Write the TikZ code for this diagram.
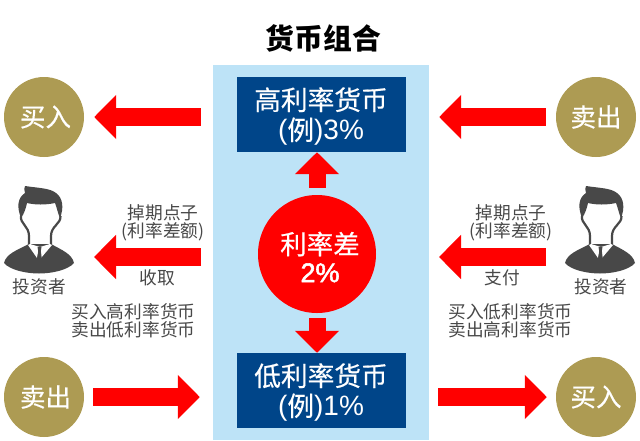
\documentclass[tikz,border=0pt]{standalone}
\usepackage{fontspec}
\setmainfont{Noto Sans CJK SC}
\newfontfamily\medfont[FakeBold=0.5]{Noto Sans CJK SC}
\newfontfamily\numfont{Liberation Sans}
\newfontfamily\numbold[FakeBold=2]{Liberation Sans}
\usetikzlibrary{arrows.meta}
\definecolor{panelblue}{HTML}{BDE3F7}
\definecolor{boxblue}{HTML}{004589}
\definecolor{gold}{HTML}{AD9B53}
\definecolor{suit}{HTML}{484848}
\tikzset{
investor/.pic={
  \fill[suit] (21,218) .. controls (17,208) and (17,198) .. (25,193) .. controls (24,190) and (24,188) .. (25,186)
    .. controls (38,188) and (50,188) .. (56,193) .. controls (63,198) and (64,208) .. (60,218)
    .. controls (58,214) and (57,208) .. (55,203) .. controls (46,205) and (35,205) .. (27,203)
    .. controls (26,208) and (24,214) .. (21,218) -- cycle;
  \draw[suit,line width=2.2pt] (21,216) .. controls (20,224) and (29,226) .. (29,236) -- (29,246);
  \draw[suit,line width=2.2pt] (60.5,216) .. controls (61,224) and (51,226) .. (51,236) -- (51,246);
  \fill[suit] (4,263) .. controls (6,254) and (17,250) .. (29,244) -- (51,244) .. controls (62,250) and (72,254) .. (74,263)
    .. controls (68,270) and (52,273.5) .. (39,273.5) .. controls (26,273.5) and (10,270) .. (4,263) -- cycle;
  \fill[white] (28,245) -- (37,258) -- (39,248) -- (41,258) -- (52,245) -- (50,244) -- (40,247) -- (30,244) -- cycle;
  \fill[suit] (37.5,247) -- (41.5,247) -- (40.8,251) -- (42.5,264) -- (39.5,268) -- (36.5,264) -- (38.2,251) -- cycle;
}}
\begin{document}
\begin{tikzpicture}[x=1pt, y=-1pt,
ratebox/.style={fill=boxblue, inner sep=0pt, minimum width=169pt, minimum height=75pt},
ratetext/.style={text=white, align=center, inner sep=0pt, font=\fontsize{26.7}{30}\medfont},
trade/.style={circle, fill=gold, text=white, inner sep=0pt, minimum size=80pt, font=\fontsize{25.5}{28}\medfont},
note/.style={text=suit, align=center, inner sep=0pt, font=\fontsize{17.7}{18}\selectfont},
bigarrow/.style={red, line width=18pt, -{Triangle[length=22pt,width=43pt]}},
shortarrow/.style={red, line width=17pt, -{Triangle[length=22pt,width=43pt]}}]
\useasboundingbox (0,0) rectangle (640,440);
\node[fill=panelblue, inner sep=0pt, minimum width=216pt, minimum height=375pt] (panel) at (321,252.5) {};
\node[inner sep=0pt, font=\fontsize{28.8}{30}\selectfont\bfseries] (title) at (323.5,38.5) {货币组合};
\node[ratebox] (high) at (321.5,114.5) {};
\node[ratetext] (highText) at (321,116.5) {高利率货币\\{\numfont\fontsize{28}{30}\selectfont(}例{\numfont\fontsize{28}{30}\selectfont)3\%}};
\node[ratebox] (low) at (321.5,390.5) {};
\node[ratetext] (lowText) at (321,392.5) {低利率货币\\{\numfont\fontsize{28}{30}\selectfont(}例{\numfont\fontsize{28}{30}\selectfont)1\%}};
\node[circle, fill=red, inner sep=0pt, minimum size=118pt] (spread) at (317,254) {};
\node[text=white, align=center, inner sep=0pt, font=\fontsize{26.5}{28}\medfont] (spreadText) at (320,257) {利率差\\{\numbold\fontsize{27}{28}\selectfont 2\%}};
\node[trade] (buyL) at (44,117) {\hspace*{3pt}买入};
\node[trade] (sellR) at (596,117) {卖出};
\node[trade] (sellL) at (44,397) {\hspace*{3pt}卖出};
\node[trade] (buyR) at (596,397) {买入};

\pic at (0,0) {investor};
\pic at (561,0) {investor};
\node[note] (personL) at (39.5,287) {投资者};
\node[note] (personR) at (601,287) {投资者};

\node[note] (swapL) at (163,222.5) {掉期点子\\(利率差额)};
\node[note] (getL) at (157,278) {收取};
\node[note] (tradeL) at (133.5,321) {买入高利率货币\\卖出低利率货币};
\node[note] (swapR) at (511,222.5) {掉期点子\\(利率差额)};
\node[note] (payR) at (502,278) {支付};
\node[note] (tradeR) at (510.5,321) {买入低利率货币\\卖出高利率货币};

\coordinate (midL) at (201,257);
\coordinate (midLtip) at (94,257);
\coordinate (midR) at (546,257);
\coordinate (midRtip) at (439,257);

\draw[bigarrow, shorten <=36pt, shorten >=10pt] (high.west |- buyL) -- (buyL.east);
\draw[bigarrow, shorten <=10pt, shorten >=33pt] (sellR.west) -- (high.east |- sellR);
\draw[bigarrow] (midL) -- (midLtip);
\draw[bigarrow] (midR) -- (midRtip);
\draw[bigarrow, shorten <=9pt, shorten >=37pt] (sellL.east) -- (low.west |- sellL);
\draw[bigarrow, shorten <=32pt, shorten >=9pt] (low.east |- buyR) -- (buyR.west);
\draw[shortarrow, shorten <=7pt] (spread.north) -- (high.south -| spread.north);
\draw[shortarrow, shorten <=5pt] (spread.south) -- (low.north -| spread.south);
\end{tikzpicture}
\end{document}
